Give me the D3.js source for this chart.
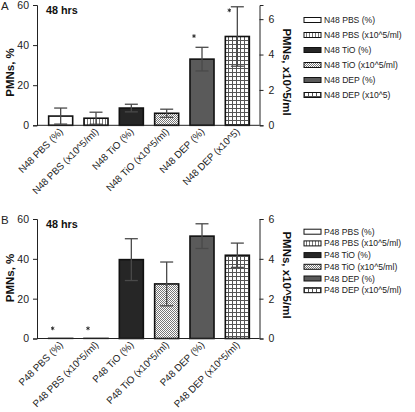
<!DOCTYPE html>
<html><head><meta charset="utf-8">
<script src="https://cdn.jsdelivr.net/npm/d3@7"></script>
<style>
body{margin:0;background:#fff;}
text{font-family:"Liberation Sans",Arial,sans-serif;}
</style></head>
<body>
<svg id="chart" width="415" height="412"></svg>
<script>
// ---------- DATA ----------
const categoriesA = ["N48 PBS (%)", "N48 PBS (x10^5/ml)", "N48 TiO (%)", "N48 TiO (x10^5/ml)", "N48 DEP (%)", "N48 DEP (x10^5)"];
const valuesA = [4.6, 0.4, 8.6, 0.68, 33, 5.02];
const errorsA = [4.0, 0.34, 1.9, 0.23, 5.9, 1.68];
const starsA = [null, null, null, null, 44.5, 6.5];
const legendA = ["N48 PBS (%)", "N48 PBS (x10^5/ml)", "N48 TiO (%)", "N48 TiO (x10^5/ml)", "N48 DEP (%)", "N48 DEP (x10^5)"];

const categoriesB = ["P48 PBS (%)", "P48 PBS (x10^5/ml)", "P48 TiO (%)", "P48 TiO (x10^5/ml)", "P48 DEP (%)", "P48 DEP (x10^5/ml)"];
const valuesB = [0.3, 0.03, 39.6, 2.74, 51.4, 4.18];
const errorsB = [0, 0, 10.5, 1.1, 6.2, 0.61];
const starsB = [5.1, 0.51, null, null, null, null];
const legendB = ["P48 PBS (%)", "P48 PBS (x10^5/ml)", "P48 TiO (%)", "P48 TiO (x10^5/ml)", "P48 DEP (%)", "P48 DEP (x10^5/ml)"];

// which axis each bar uses: L = %, R = x10^5/ml
const seriesAxis = ["L", "R", "L", "R", "L", "R"];
const leftTicks = [0, 20, 40, 60];
const rightTicks = [0, 2, 4, 6];
const panelLetters = ["A", "B"];
const panelTitle = "48 hrs";
const leftTitle = "PMNs, %";
const rightTitle = "PMNs, x10^5/ml";

// ---------- DRAW ----------
const svg = d3.select("#chart");
const defs = svg.append("defs");

function pat(id, w, h, build) {
  const p = defs.append("pattern").attr("id", id).attr("patternUnits", "userSpaceOnUse")
    .attr("width", w).attr("height", h);
  p.append("rect").attr("width", w).attr("height", h).attr("fill", "#fff");
  build(p);
}
pat("vstripe", 3, 3, p => p.append("rect").attr("x", 0).attr("y", 0).attr("width", 1).attr("height", 3).attr("fill", "#777"));
pat("checker", 2, 2, p => {
  p.append("rect").attr("x", 0).attr("y", 0).attr("width", 1).attr("height", 1).attr("fill", "#777");
  p.append("rect").attr("x", 1).attr("y", 1).attr("width", 1).attr("height", 1).attr("fill", "#777");
});
pat("grid", 4, 4, p => {
  p.append("rect").attr("x", 0).attr("y", 0).attr("width", 1).attr("height", 4).attr("fill", "#555");
  p.append("rect").attr("x", 0).attr("y", 0).attr("width", 4).attr("height", 1).attr("fill", "#555");
});
const fills = ["#ffffff", "url(#vstripe)", "#262626", "url(#checker)", "#5a5a5a", "url(#grid)"];

function drawPanel(cfg) {
  const g = svg.append("g");
  const x = d3.scaleBand().domain(cfg.cats).range([43, 255]).paddingInner(0.32).paddingOuter(0.16);
  const yL = d3.scaleLinear().domain([0, 60]).range([cfg.y0, cfg.y1]);
  const yR = d3.scaleLinear().domain([0, cfg.rMax]).range([cfg.y0, cfg.yR1]);
  const sc = i => seriesAxis[i] === "L" ? yL : yR;
  const axL = 37, axR = 259.5;

  cfg.cats.forEach((c, i) => {
    const s = sc(i);
    const tiny = (cfg.y0 - s(cfg.vals[i])) < 2;
    g.append("rect").attr("x", x(c)).attr("width", x.bandwidth())
      .attr("y", s(cfg.vals[i])).attr("height", Math.max(0.001, cfg.y0 - s(cfg.vals[i])))
      .attr("fill", fills[i]).attr("stroke", tiny ? "#999" : "#111")
      .attr("stroke-width", 1.6);
  });
  cfg.cats.forEach((c, i) => {
    const e = cfg.errs[i];
    if (!e) return;
    const s = sc(i), cx = x(c) + x.bandwidth() / 2;
    const top = s(cfg.vals[i] + e), bot = s(Math.max(0, cfg.vals[i] - e));
    const eg = g.append("g").attr("stroke", "#4a4a4a").attr("stroke-width", 1.3);
    eg.append("line").attr("x1", cx).attr("x2", cx).attr("y1", top).attr("y2", bot);
    eg.append("line").attr("x1", cx - 6.5).attr("x2", cx + 6.5).attr("y1", top).attr("y2", top);
    eg.append("line").attr("x1", cx - 6.5).attr("x2", cx + 6.5).attr("y1", bot).attr("y2", bot);
  });
  const star = d3.symbol().type(d3.symbolAsterisk).size(10);
  cfg.cats.forEach((c, i) => {
    if (cfg.stars[i] == null) return;
    const s = sc(i);
    g.append("path").attr("d", star()).attr("transform", `translate(${x(c) + 4},${s(cfg.stars[i])})`)
      .attr("fill", "none").attr("stroke", "#222").attr("stroke-width", 0.9);
  });

  const la = g.append("g").attr("transform", `translate(${axL},0)`)
    .call(d3.axisLeft(yL).tickValues(leftTicks).tickSize(4).tickPadding(4).tickFormat(d3.format("d")));
  la.selectAll("text").attr("font-size", 10.5).attr("fill", "#222").attr("font-family", "Liberation Sans, Arial");
  la.selectAll("line,path").attr("stroke", "#222");
  const ra = g.append("g").attr("transform", `translate(${axR},0)`)
    .call(d3.axisRight(yR).tickValues(rightTicks).tickSize(4).tickPadding(5).tickFormat(d3.format("d")));
  ra.selectAll("text").attr("font-size", 10.5).attr("fill", "#222").attr("font-family", "Liberation Sans, Arial");
  ra.selectAll("line,path").attr("stroke", "#222");
  g.append("line").attr("x1", axL).attr("x2", axR).attr("y1", cfg.y0).attr("y2", cfg.y0)
    .attr("stroke", "#222").attr("stroke-width", 1);

  cfg.cats.forEach((c) => {
    const cx = x(c) + x.bandwidth() / 2;
    g.append("text").attr("transform", `translate(${cx + 3},${cfg.y0 + 7}) rotate(-45)`)
      .attr("text-anchor", "end").attr("font-size", 9.8).attr("fill", "#222").text(c);
  });

  g.append("text").attr("x", 1).attr("y", cfg.y1 + 5).attr("font-size", 11.5).attr("fill", "#222").text(cfg.letter);
  g.append("text").attr("x", 46).attr("y", cfg.y1 + 8.5).attr("font-size", 10.8).attr("font-weight", "bold")
    .attr("fill", "#111").text(panelTitle);
  g.append("text").attr("transform", `translate(13.5,${cfg.ltY}) rotate(-90)`).attr("text-anchor", "middle")
    .attr("font-size", 11.5).attr("font-weight", "bold").attr("fill", "#111").text(leftTitle);
  g.append("text").attr("transform", `translate(282.5,${cfg.rtY}) rotate(90)`).attr("text-anchor", "middle")
    .attr("font-size", 11.5).attr("font-weight", "bold").attr("fill", "#111").text(rightTitle);

  cfg.legend.forEach((t, i) => {
    const ly = cfg.legY + i * cfg.legStep;
    g.append("rect").attr("x", 304).attr("y", ly - 2.5).attr("width", 17).attr("height", 5)
      .attr("fill", fills[i]).attr("stroke", "#111").attr("stroke-width", 1);
    g.append("text").attr("x", 324).attr("y", ly + 3).attr("font-size", 8.6).attr("fill", "#222").text(t);
  });
}

drawPanel({cats: categoriesA, vals: valuesA, errs: errorsA, stars: starsA, legend: legendA,
  y0: 125.3, y1: 5, yR1: 5, rMax: 6.8, letter: panelLetters[0], ltY: 72.5, rtY: 72, legY: 20, legStep: 15});
drawPanel({cats: categoriesB, vals: valuesB, errs: errorsB, stars: starsB, legend: legendB,
  y0: 338.5, y1: 219, yR1: 219, rMax: 6, letter: panelLetters[1], ltY: 278, rtY: 275, legY: 231.7, legStep: 11.7});
</script>
</body></html>
